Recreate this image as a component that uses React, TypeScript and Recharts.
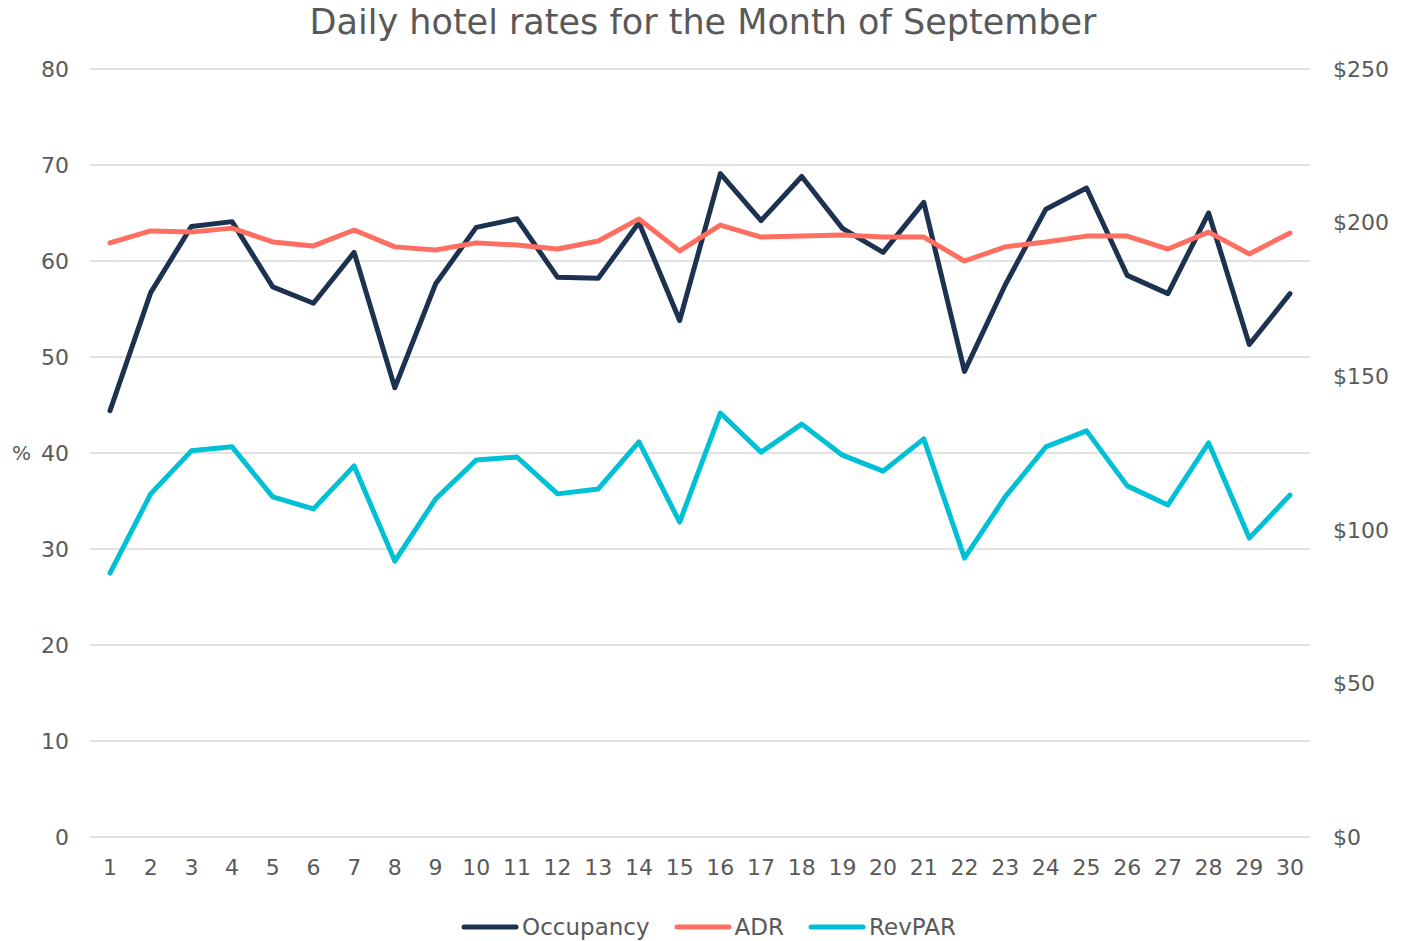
import { LineChart, Line, XAxis, YAxis, CartesianGrid, Legend } from 'recharts'

const days = [
  '1', '2', '3', '4', '5', '6', '7', '8', '9', '10', '11', '12', '13', '14', '15',
  '16', '17', '18', '19', '20', '21', '22', '23', '24', '25', '26', '27', '28', '29', '30',
]

// occupancy in %, left axis
const occupancy = [
  44.4, 56.7, 63.6, 64.1, 57.3, 55.6, 60.9, 46.8, 57.6, 63.5, 64.4, 58.3, 58.2, 64.0, 53.8,
  69.1, 64.2, 68.8, 63.4, 60.9, 66.1, 48.5, 57.5, 65.4, 67.6, 58.5, 56.6, 65.0, 51.3, 56.6,
]

// average daily rate, right axis ($)
const adr = [
  193.4, 197.3, 196.9, 198.2, 193.7, 192.4, 197.6, 192.1, 191.1, 193.4, 192.7, 191.4, 194.0, 201.2, 190.8,
  199.2, 195.3, 195.6, 196.0, 195.3, 195.3, 187.5, 192.1, 193.7, 195.6, 195.6, 191.4, 196.9, 189.8, 196.6,
]

// revenue per available room, right axis ($)
const revpar = [
  85.9, 111.7, 125.7, 127.0, 110.7, 106.8, 120.8, 89.8, 110.0, 122.7, 123.7, 111.7, 113.3, 128.6, 102.5,
  138.0, 125.3, 134.4, 124.3, 119.1, 129.6, 90.8, 110.7, 127.0, 132.2, 114.3, 108.1, 128.3, 97.3, 111.3,
]

const pctTicks = [0, 10, 20, 30, 40, 50, 60, 70, 80]
const dollarTicks = [0, 50, 100, 150, 200, 250]

const data = days.map((day, i) => ({
  day,
  Occupancy: occupancy[i],
  ADR: adr[i],
  RevPAR: revpar[i],
}))

const FONT = '"DejaVu Sans", sans-serif'
const GREY = '#595959'

const series = [
  { key: 'Occupancy', color: '#1c3250', axis: 'left' },
  { key: 'ADR', color: '#ff6f61', axis: 'right' },
  { key: 'RevPAR', color: '#00c0d6', axis: 'right' },
]

function LegendContent() {
  return (
    <div style={{ display: 'flex', justifyContent: 'center', alignItems: 'center', height: 30, gap: 24 }}>
      {series.map((s) => (
        <div key={s.key} style={{ display: 'flex', alignItems: 'center', gap: 3 }}>
          <svg width={58} height={8}>
            <line x1={3} y1={4} x2={55} y2={4} stroke={s.color} strokeWidth={5} strokeLinecap="round" />
          </svg>
          <span style={{ fontFamily: FONT, fontSize: 23, color: GREY }}>{s.key}</span>
        </div>
      ))}
    </div>
  )
}

export default function App() {
  const tick = { fontFamily: FONT, fontSize: 22, fill: GREY }
  return (
    <div style={{ position: 'relative', width: 1401, height: 933 }}>
      <div
        style={{
          position: 'absolute',
          top: -6,
          left: 0,
          width: 1390,
          textAlign: 'center',
          fontFamily: FONT,
          fontSize: 35,
          lineHeight: '40px',
          color: GREY,
          zIndex: 1,
        }}
      >
        Daily hotel rates for the Month of September
      </div>
      <LineChart width={1401} height={933} data={data} margin={{ top: 61, right: 0, bottom: 24, left: 0 }}>
        <CartesianGrid yAxisId="left" vertical={false} stroke="#d9d9d9" strokeWidth={1.5} />
        <XAxis
          dataKey="day"
          height={50}
          padding={{ left: 20, right: 20 }}
          axisLine={false}
          tickLine={false}
          tickSize={0}
          tickMargin={22}
          interval={0}
          tick={tick}
        />
        <YAxis
          yAxisId="left"
          orientation="left"
          width={82}
          domain={[0, 80]}
          ticks={pctTicks}
          axisLine={false}
          tickLine={false}
          tickSize={0}
          tickMargin={21}
          tick={tick}
          label={{ value: '%', position: 'insideLeft', offset: 4, style: { fontFamily: FONT, fontSize: 20, fill: GREY } }}
        />
        <YAxis
          yAxisId="right"
          orientation="right"
          width={99}
          domain={[0, 250]}
          ticks={dollarTicks}
          axisLine={false}
          tickLine={false}
          tickSize={0}
          tickMargin={23}
          tick={{ ...tick, textAnchor: 'start' }}
          tickFormatter={(v) => `$${v}`}
        />
        {series.map((s) => (
          <Line
            key={s.key}
            yAxisId={s.axis}
            type="linear"
            dataKey={s.key}
            stroke={s.color}
            strokeWidth={5}
            strokeLinejoin="round"
            strokeLinecap="round"
            dot={false}
            activeDot={false}
            isAnimationActive={false}
          />
        ))}
        <Legend
          verticalAlign="bottom"
          content={<LegendContent />}
          wrapperStyle={{ bottom: 'auto', top: 904 }}
        />
      </LineChart>
    </div>
  )
}
